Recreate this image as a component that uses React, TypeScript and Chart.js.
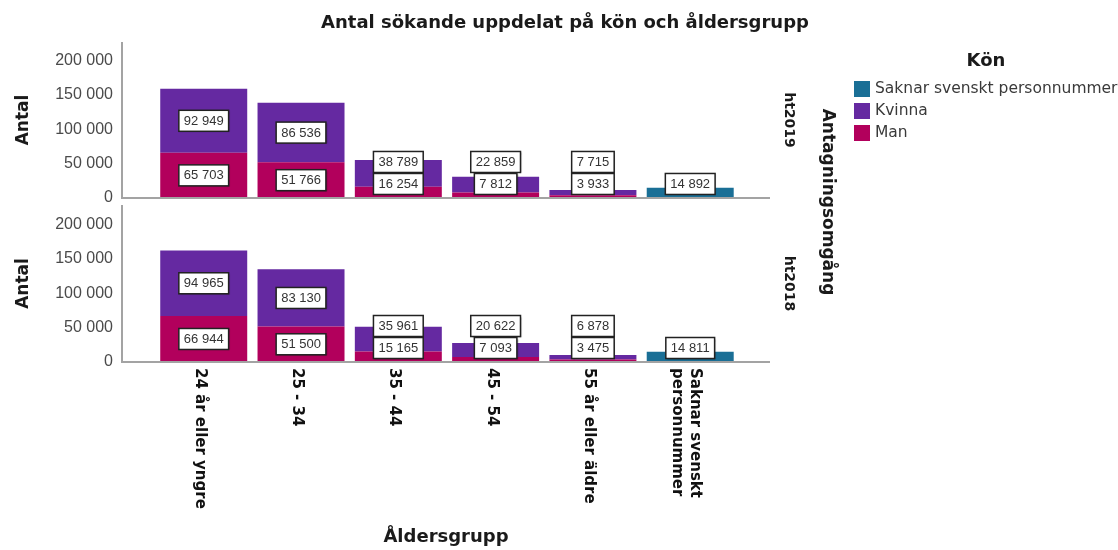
import React, { useEffect, useRef } from 'react';
import { Chart, registerables } from 'chart.js';

Chart.register(...registerables);

// ---------- data ----------
const categories: string[][] = [
  ['24 år eller yngre'],
  ['25 - 34'],
  ['35 - 44'],
  ['45 - 54'],
  ['55 år eller äldre'],
  ['Saknar svenskt', 'personnummer'],
];
const panels = ['ht2019', 'ht2018'];
const man2019 = [65703, 51766, 16254, 7812, 3933, null];
const kvinna2019 = [92949, 86536, 38789, 22859, 7715, null];
const saknar2019 = [null, null, null, null, null, 14892];
const man2018 = [66944, 51500, 15165, 7093, 3475, null];
const kvinna2018 = [94965, 83130, 35961, 20622, 6878, null];
const saknar2018 = [null, null, null, null, null, 14811];
const yTicks = [0, 50000, 100000, 150000, 200000];
const legendLabels = ['Saknar svenskt personnummer', 'Kvinna', 'Man'];
const titleText = 'Antal sökande uppdelat på kön och åldersgrupp';
const xTitle = 'Åldersgrupp';
const yTitle = 'Antal';
const facetTitle = 'Antagningsomgång';
const legendTitle = 'Kön';

const COL_MAN = '#b2005c';
const COL_KVINNA = '#6529a1';
const COL_SAKNAR = '#1a6f96';
const legendColors = [COL_SAKNAR, COL_KVINNA, COL_MAN];

const FONT = '"DejaVu Sans", "Liberation Sans", sans-serif';
const FONT_NUM = '"Liberation Sans", Arial, sans-serif';

const fmt = (v: number) => String(Math.round(v)).replace(/\B(?=(\d{3})+(?!\d))/g, ' ');

const pts = (arr: (number | null)[]) => arr.map((v, i) => ({ x: i, y: v }));

function textAt(ctx: CanvasRenderingContext2D, text: string, x: number, y: number, font: string, color: string, angle = 0, align: CanvasTextAlign = 'center') {
  ctx.save();
  ctx.translate(x, y);
  ctx.rotate(angle);
  ctx.font = font;
  ctx.fillStyle = color;
  ctx.textAlign = align;
  ctx.textBaseline = 'middle';
  ctx.fillText(text, 0, 0);
  ctx.restore();
}

function labelBox(ctx: CanvasRenderingContext2D, text: string, cx: number, cy: number) {
  ctx.save();
  ctx.font = `13px ${FONT_NUM}`;
  const w = ctx.measureText(text).width + 10;
  const h = 21;
  ctx.save();
  ctx.shadowColor = 'rgba(0,0,0,0.45)';
  ctx.shadowOffsetX = 1;
  ctx.shadowOffsetY = 1;
  ctx.shadowBlur = 1.5;
  ctx.fillStyle = '#ffffff';
  ctx.fillRect(cx - w / 2, cy - h / 2, w, h);
  ctx.restore();
  ctx.strokeStyle = '#222222';
  ctx.lineWidth = 1.5;
  ctx.strokeRect(cx - w / 2, cy - h / 2, w, h);
  ctx.fillStyle = '#333333';
  ctx.textAlign = 'center';
  ctx.textBaseline = 'middle';
  ctx.fillText(text, cx, cy + 0.5);
  ctx.restore();
}

const decorPlugin = {
  id: 'decor',
  afterDatasetsDraw(chart: any) {
    const ctx: CanvasRenderingContext2D = chart.ctx;
    const area = chart.chartArea;
    const xs = chart.scales.x;
    const yScales = [chart.scales.yTop, chart.scales.yBot];

    // axis lines
    ctx.save();
    ctx.strokeStyle = '#a3a3a3';
    ctx.lineWidth = 2;
    yScales.forEach((ys: any, p: number) => {
      const zero = ys.getPixelForValue(0);
      const top = p === 0 ? area.top : ys.top + 4;
      ctx.beginPath();
      ctx.moveTo(area.left, top);
      ctx.lineTo(area.left, zero);
      ctx.lineTo(area.right, zero);
      ctx.stroke();
    });
    ctx.restore();

    // value labels
    yScales.forEach((ys: any, p: number) => {
      const manMeta = chart.getDatasetMeta(p * 3);
      const kvMeta = chart.getDatasetMeta(p * 3 + 1);
      const skMeta = chart.getDatasetMeta(p * 3 + 2);
      const manData = chart.data.datasets[p * 3].data;
      const kvData = chart.data.datasets[p * 3 + 1].data;
      const skData = chart.data.datasets[p * 3 + 2].data;
      categories.forEach((_, i) => {
        const m = manData[i].y;
        const k = kvData[i].y;
        const s = skData[i].y;
        if (m != null && k != null) {
          const me = manMeta.data[i];
          const ke = kvMeta.data[i];
          const mc = Math.min((me.y + me.base) / 2, me.base - 14);
          const kc = Math.min((ke.y + ke.base) / 2, mc - 22);
          labelBox(ctx, fmt(k), ke.x, kc);
          labelBox(ctx, fmt(m), me.x, mc);
        }
        if (s != null) {
          const se = skMeta.data[i];
          const sc = Math.min((se.y + se.base) / 2, se.base - 14);
          labelBox(ctx, fmt(s), se.x, sc);
        }
      });
    });

    // x category labels (rotated clockwise)
    const yb = chart.scales.yBot;
    const base = yb.getPixelForValue(0);
    categories.forEach((lines, i) => {
      const cx = xs.getPixelForValue(i) - 4;
      const lh = 18;
      lines.forEach((ln, k) => {
        const off = (k - (lines.length - 1) / 2) * lh;
        textAt(ctx, ln, cx - off, base + 6, `bold 15px ${FONT}`, '#111111', Math.PI / 2, 'left');
      });
    });

    // titles
    textAt(ctx, titleText, 565, 23, `bold 18px ${FONT}`, '#1a1a1a');
    textAt(ctx, xTitle, (area.left + area.right) / 2, 537, `bold 18px ${FONT}`, '#1a1a1a');
    yScales.forEach((ys: any, p: number) => {
      const top = p === 0 ? area.top : ys.top + 4;
      const zero = ys.getPixelForValue(0);
      const cy = (top + zero) / 2;
      textAt(ctx, yTitle, 24, cy, `bold 17px ${FONT}`, '#1a1a1a', -Math.PI / 2);
      textAt(ctx, panels[p], 789, cy, `bold 14px ${FONT}`, '#1a1a1a', Math.PI / 2);
    });
    textAt(ctx, facetTitle, 827, (area.top + area.bottom) / 2, `bold 17px ${FONT}`, '#1a1a1a', Math.PI / 2);

    // legend
    textAt(ctx, legendTitle, 986, 61, `bold 18px ${FONT}`, '#1a1a1a');
    legendLabels.forEach((lab, i) => {
      const cy = 89 + i * 22;
      ctx.save();
      ctx.fillStyle = legendColors[i];
      ctx.fillRect(854, cy - 8, 16, 16);
      ctx.restore();
      textAt(ctx, lab, 875, cy, `15.5px ${FONT}`, '#3a3a3a', 0, 'left');
    });
  },
};

const yTickOpts = {
  padding: 9,
  autoSkip: false,
  color: '#4a4a4a',
  font: { family: FONT_NUM, size: 16 },
  callback: (v: any) => fmt(Number(v)),
};

export default function App() {
  const ref = useRef<HTMLCanvasElement>(null);

  useEffect(() => {
    if (!ref.current) return;
    const mk = (label: string, data: (number | null)[], color: string, axis: string) => ({
      label,
      data: pts(data),
      backgroundColor: color,
      borderWidth: 0,
      yAxisID: axis,
      xAxisID: 'x',
      barPercentage: 0.894,
      categoryPercentage: 1,
    });
    const chart = new Chart(ref.current, {
      type: 'bar',
      data: {
        datasets: [
          mk('Man', man2019, COL_MAN, 'yTop'),
          mk('Kvinna', kvinna2019, COL_KVINNA, 'yTop'),
          mk('Saknar svenskt personnummer', saknar2019, COL_SAKNAR, 'yTop'),
          mk('Man', man2018, COL_MAN, 'yBot'),
          mk('Kvinna', kvinna2018, COL_KVINNA, 'yBot'),
          mk('Saknar svenskt personnummer', saknar2018, COL_SAKNAR, 'yBot'),
        ] as any,
      },
      options: {
        responsive: false,
        animation: false,
        devicePixelRatio: 1,
        layout: { padding: { top: 42, bottom: 188, left: 0, right: 348 } },
        plugins: {
          legend: { display: false },
          tooltip: { enabled: false },
          title: { display: false },
        },
        scales: {
          x: {
            type: 'linear',
            min: -0.84,
            max: 5.82,
            stacked: true,
            display: false,
            offset: false,
            afterBuildTicks: (s: any) => { s.ticks = categories.map((_, i) => ({ value: i })); },
          },
          yTop: {
            type: 'linear',
            position: 'left',
            stack: 'panels',
            stackWeight: 159,
            weight: 2,
            min: -4400,
            max: 226700,
            stacked: true,
            grid: { display: false, drawTicks: false },
            border: { display: false },
            afterBuildTicks: (s: any) => { s.ticks = yTicks.map((v) => ({ value: v })); },
            afterFit: (s: any) => { s.width = 122; },
            ticks: yTickOpts,
          },
          yBot: {
            type: 'linear',
            position: 'left',
            stack: 'panels',
            stackWeight: 161,
            weight: 1,
            min: 0,
            max: 234000,
            stacked: true,
            grid: { display: false, drawTicks: false },
            border: { display: false },
            afterBuildTicks: (s: any) => { s.ticks = yTicks.map((v) => ({ value: v })); },
            afterFit: (s: any) => { s.width = 122; },
            ticks: yTickOpts,
          },
        } as any,
      },
      plugins: [decorPlugin],
    });
    return () => chart.destroy();
  }, []);

  return (
    <div style={{ position: 'fixed', left: 0, top: 0, width: 1118, height: 550, background: '#ffffff' }}>
      <canvas ref={ref} width={1118} height={550} style={{ width: 1118, height: 550, display: 'block' }} />
    </div>
  );
}
